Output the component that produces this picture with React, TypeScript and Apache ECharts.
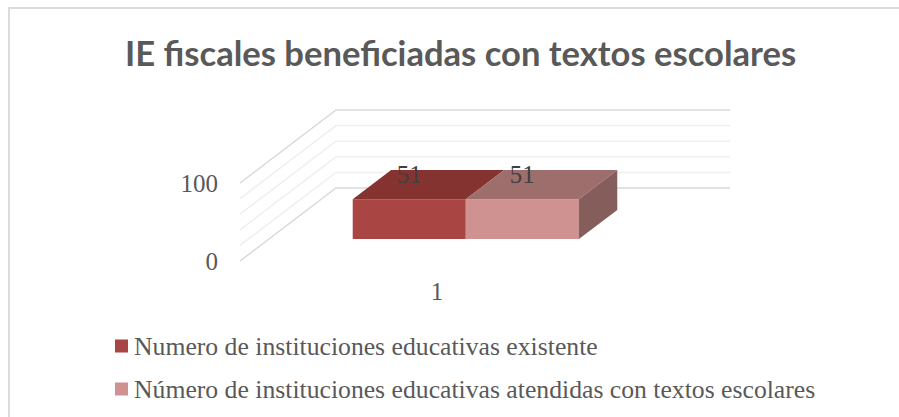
import React, { useEffect, useRef } from "react";
import * as echarts from "echarts";

const categories = ["1"];
const seriesNames = [
  "Numero de instituciones educativas existente",
  "Número de instituciones educativas atendidas con textos escolares",
];
const existentes = [51];
const atendidas = [51];
const gridValues = [0, 20, 40, 60, 80, 100];
const shownTicks = [0, 100];

const DEPTH_X = 96;
const DEPTH_Y = -73;
const NEAR = 0.3;
const FAR = 0.7;
const BAR_BAND = 0.287;
const WALL_RIGHT = 730;

const SERIF = "'Liberation Serif', serif";

function poly(points: number[][], fill: string) {
  return { type: "polygon", shape: { points }, style: { fill, stroke: "none" } };
}

function barRenderer(slot: number, front: string, top: string, side: string | null) {
  return (params: any, api: any) => {
    const base = api.coord([api.value(0), 0]);
    const peak = api.coord([api.value(0), api.value(1)]);
    const band = api.size([1, 0])[0];
    const w = band * BAR_BAND;
    const x0 = base[0] + slot * w + NEAR * DEPTH_X;
    const x1 = x0 + w;
    const yb = base[1] + NEAR * DEPTH_Y;
    const yt = peak[1] + NEAR * DEPTH_Y;
    const dx = (FAR - NEAR) * DEPTH_X;
    const dy = (FAR - NEAR) * DEPTH_Y;
    const children: any[] = [
      poly([[x0, yt], [x1, yt], [x1, yb], [x0, yb]], front),
      poly([[x0, yt], [x1, yt], [x1 + dx, yt + dy], [x0 + dx, yt + dy]], top),
    ];
    if (side) {
      children.push(poly([[x1, yt], [x1 + dx, yt + dy], [x1 + dx, yb + dy], [x1, yb]], side));
    }
    children.push({
      type: "text",
      style: {
        text: String(api.value(1)),
        x: (x0 + x1) / 2,
        y: yt - 25,
        textAlign: "center",
        textVerticalAlign: "middle",
        fill: "#404040",
        font: `25px ${SERIF}`,
      },
      z2: 10,
    });
    return { type: "group", children };
  };
}

export default function App() {
  const ref = useRef<HTMLDivElement>(null);
  useEffect(() => {
    const chart = echarts.init(ref.current!, undefined, { renderer: "svg" });
    chart.setOption({
      animation: false,
      backgroundColor: "#ffffff",
      title: {
        text: "IE fiscales beneficiadas con textos escolares",
        left: 120,
        top: 30,
        textStyle: { fontFamily: "Lato", fontWeight: "bold", fontSize: 34.6, color: "#595959" },
      },
      graphic: [
        {
          type: "polyline",
          shape: { points: [[9, 417], [9, 8], [899, 8]] },
          style: { stroke: "#dcdcdc", lineWidth: 2, fill: "none" },
          silent: true,
        },
      ],
      legend: {
        orient: "vertical",
        left: 115,
        top: 333,
        icon: "rect",
        itemWidth: 13,
        itemHeight: 13,
        itemGap: 17,
        padding: 0,
        data: seriesNames,
        textStyle: { fontFamily: SERIF, fontSize: 25.7, color: "#595959", padding: [0, 0, 0, 1] },
        selectedMode: false,
      },
      grid: { left: 240, top: 183, width: 394, height: 78 },
      xAxis: {
        type: "category",
        data: categories,
        axisLine: { show: false },
        axisTick: { show: false },
        axisLabel: { fontFamily: SERIF, fontSize: 25, color: "#595959", margin: 18 },
      },
      yAxis: {
        type: "value",
        min: 0,
        max: 100,
        interval: 20,
        splitLine: { show: false },
        axisLine: { show: false },
        axisTick: { show: false },
        axisLabel: {
          fontFamily: SERIF,
          fontSize: 25,
          color: "#595959",
          margin: 22,
          formatter: (v: number) => (shownTicks.includes(v) ? String(v) : ""),
        },
      },
      series: [
        {
          type: "custom",
          name: "wall",
          silent: true,
          z: 1,
          data: gridValues.map((v) => [categories[0], v]),
          encode: { x: 0, y: 1 },
          renderItem: (params: any, api: any) => {
            const v = api.value(1);
            const front = api.coord([api.value(0), v]);
            const x0 = params.coordSys.x;
            const stroke = shownTicks.includes(v) ? "#d9d9d9" : "#efefef";
            return {
              type: "polyline",
              shape: {
                points: [
                  [x0, front[1]],
                  [x0 + DEPTH_X, front[1] + DEPTH_Y],
                  [WALL_RIGHT, front[1] + DEPTH_Y],
                ],
              },
              style: { stroke, lineWidth: 1.5, fill: "none" },
            };
          },
        },
        {
          type: "custom",
          name: seriesNames[0],
          z: 2,
          itemStyle: { color: "#A94542" },
          data: categories.map((c, i) => [c, existentes[i]]),
          encode: { x: 0, y: 1 },
          renderItem: barRenderer(-1, "#A94542", "#843331", null),
        },
        {
          type: "custom",
          name: seriesNames[1],
          z: 2,
          itemStyle: { color: "#D09191" },
          data: categories.map((c, i) => [c, atendidas[i]]),
          encode: { x: 0, y: 1 },
          renderItem: barRenderer(0, "#D09191", "#9E6E6D", "#855D5B"),
        },
      ],
    });
    return () => chart.dispose();
  }, []);
  return <div ref={ref} style={{ position: "fixed", left: 0, top: 0, width: 899, height: 417 }} />;
}
